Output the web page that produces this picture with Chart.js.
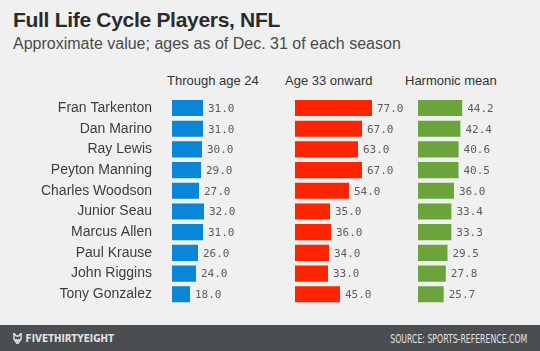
<!DOCTYPE html>
<html>
<head>
<meta charset="utf-8">
<script src="https://cdn.jsdelivr.net/npm/chart.js@4"></script>
<style>
    html, body { margin: 0; padding: 0; }
    body {
        width: 540px;
        height: 351px;
        background: #f0f0f0;
        position: relative;
        overflow: hidden;
        font-family: "Liberation Sans", Arial, sans-serif;
    }
    #title {
        position: absolute; left: 13px; top: 8px;
        font: bold 21px "Liberation Sans", Arial, sans-serif;
        color: #2b2b2b;
        letter-spacing: -0.3px;
    }
    #subtitle {
        position: absolute; left: 13px; top: 35px;
        font-size: 16px;
        color: #4a4a4a;
    }
    .colhead {
        position: absolute; top: 73px;
        font-size: 13px;
        color: #333;
    }
    #chart { position: absolute; left: 0; top: 0; }
    #footer {
        position: absolute; left: 0; top: 325px;
        width: 540px; height: 26px;
        background: #4b4e50;
        color: #e2e2e2;
        font: bold 11px "DejaVu Sans Condensed", "DejaVu Sans", sans-serif;
    }
    #brand {
        position: absolute; left: 13px; top: 7px;
        transform: scaleX(0.9); transform-origin: left center;
    }
    #brand svg { vertical-align: -2px; margin-right: 4px; }
    #source {
        position: absolute; right: 13px; top: 7px;
        transform: scaleX(0.72); transform-origin: right center;
        font-weight: normal;
        font-size: 12px;
    }
</style>
</head>
<body>
<div id="title">Full Life Cycle Players, NFL</div>
<div id="subtitle">Approximate value; ages as of Dec. 31 of each season</div>
<div class="colhead" style="left:167px">Through age 24</div>
<div class="colhead" style="left:285px">Age 33 onward</div>
<div class="colhead" style="left:405px">Harmonic mean</div>

<canvas id="chart" width="540" height="325"></canvas>

<div id="footer">
    <span id="brand"><svg width="10" height="11" viewBox="0 0 10 11"><path d="M1 0 L3.5 3 L6.5 3 L9 0 L9 6 L5 11 L1 6 Z M3 6 L5 8 L7 6" fill="none" stroke="#e2e2e2" stroke-width="1.6"/></svg>FIVETHIRTYEIGHT</span>
    <span id="source">SOURCE: SPORTS-REFERENCE.COM</span>
</div>

<script>
// Chart data
const players = [
    "Fran Tarkenton",
    "Dan Marino",
    "Ray Lewis",
    "Peyton Manning",
    "Charles Woodson",
    "Junior Seau",
    "Marcus Allen",
    "Paul Krause",
    "John Riggins",
    "Tony Gonzalez",
];
const throughAge24 = [31, 31, 30, 29, 27, 32, 31, 26, 24, 18];
const age33Onward = [77, 67, 63, 67, 54, 35, 36, 34, 33, 45];
const harmonicMean = [44.2, 42.4, 40.6, 40.5, 36.0, 33.4, 33.3, 29.5, 27.8, 25.7];

/**
 * Draw the value next to the end of every bar
 */
const valueLabels = {
    id: "valueLabels",
    afterDatasetsDraw(chart) {
        const ctx = chart.ctx;
        ctx.save();
        ctx.font = '11px "DejaVu Sans Mono", monospace';
        ctx.fillStyle = "#5c5c5c";
        ctx.textBaseline = "middle";
        chart.data.datasets.forEach((ds, i) => {
            const meta = chart.getDatasetMeta(i);
            meta.data.forEach((bar, j) => {
                ctx.fillText(ds.data[j].toFixed(1), bar.x + 5, bar.y + 1);
            });
        });
        ctx.restore();
    },
};

// each column gets its own x axis, laid side by side in one stack
const columnAxis = (max) => ({
    type: "linear",
    position: "bottom",
    stack: "columns",
    stackWeight: max,
    min: 0,
    max: max,
    display: false,
});

new Chart(document.getElementById("chart"), {
    type: "bar",
    data: {
        labels: players,
        datasets: [
            { data: throughAge24, xAxisID: "x1", backgroundColor: "#0a86d6" },
            { data: age33Onward, xAxisID: "x2", backgroundColor: "#ff2400" },
            { data: harmonicMean, xAxisID: "x3", backgroundColor: "#6ba43b" },
        ],
    },
    options: {
        indexAxis: "y",
        responsive: false,
        animation: false,
        grouped: false,
        barPercentage: 0.78,
        categoryPercentage: 1,
        layout: {
            padding: { top: 97.7, bottom: 10.7, left: 0, right: 0 },
        },
        scales: {
            x1: columnAxis(123),
            x2: columnAxis(123),
            x3: columnAxis(122),
            y: {
                type: "category",
                grid: { display: false },
                border: { display: false },
                ticks: {
                    color: "#3d3d3d",
                    padding: 12,
                    font: { family: '"Liberation Sans", Arial, sans-serif', size: 14 },
                },
                afterFit(scale) {
                    scale.width = 172;
                },
            },
        },
        plugins: {
            legend: { display: false },
            tooltip: { enabled: false },
        },
    },
    plugins: [valueLabels],
});
</script>
</body>
</html>
